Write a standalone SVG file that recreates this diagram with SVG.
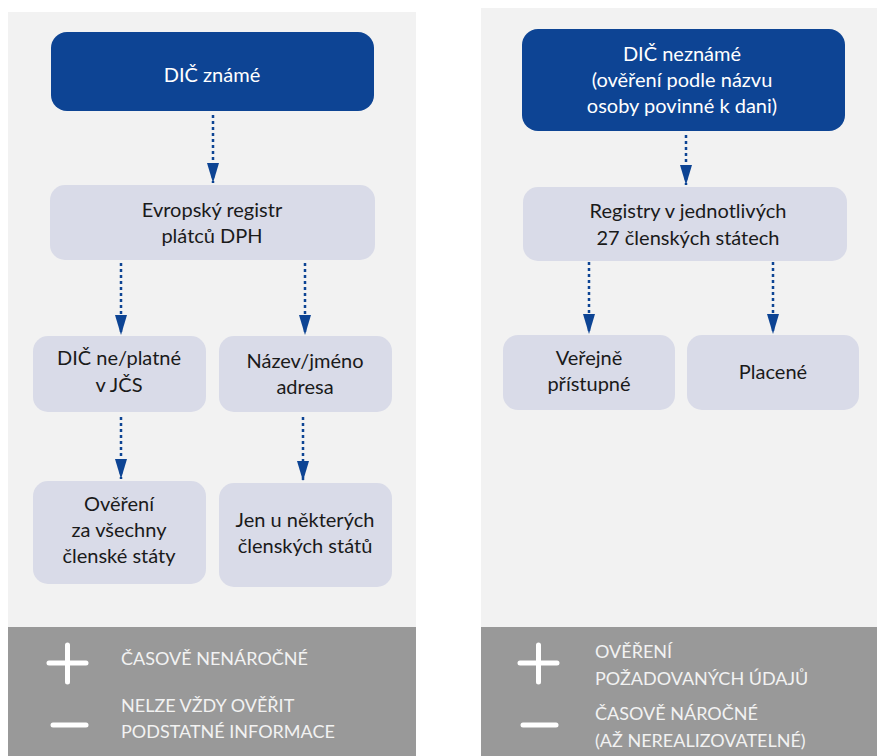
<svg xmlns="http://www.w3.org/2000/svg" width="877" height="756" viewBox="0 0 877 756">
<defs>
<marker id="ah" markerUnits="userSpaceOnUse" markerWidth="20" markerHeight="12" viewBox="0 0 20 12" refX="20" refY="6" orient="auto">
<path d="M0,0 L20,6 L0,12 Z" fill="#0d4494"/>
</marker>
<style>
.panel{fill:#f2f2f2}
.bar{fill:#999999}
.dark{fill:#0d4494}
.light{fill:#d9dbe8}
.t{font-family:Lato,"Open Sans","Liberation Sans",sans-serif;font-size:20px;text-anchor:middle;fill:#1a1a1a}
.w{fill:#ffffff}
.b{font-family:Lato,"Open Sans","Liberation Sans",sans-serif;font-size:18px;fill:#f2f2f2}
.c{stroke:#0d4494;stroke-width:2.5;stroke-dasharray:3 3;fill:none}
.sym{stroke:#ffffff;stroke-width:5;stroke-linecap:round}
</style>
</defs>
<rect class="panel" x="8" y="12" width="408" height="616"/>
<rect class="panel" x="481" y="8" width="396" height="620"/>
<rect class="bar" x="8" y="627" width="408" height="129"/>
<rect class="bar" x="481" y="627" width="396" height="129"/>

<g id="connectors">
<path class="c" d="M213,115 V183" marker-end="url(#ah)"/>
<path class="c" d="M121,263 V335" marker-end="url(#ah)"/>
<path class="c" d="M305,263 V335" marker-end="url(#ah)"/>
<path class="c" d="M121,417 V479" marker-end="url(#ah)"/>
<path class="c" d="M303,417 V481" marker-end="url(#ah)"/>
<path class="c" d="M686,135 V185" marker-end="url(#ah)"/>
<path class="c" d="M589,262 V334" marker-end="url(#ah)"/>
<path class="c" d="M773,262 V334" marker-end="url(#ah)"/>
</g>

<g id="dic-zname">
<rect class="dark" x="51" y="32" width="323" height="79" rx="16"/>
<text class="t w" x="212" y="82">DIČ známé</text>
</g>
<g id="evropsky-registr">
<rect class="light" x="50" y="185" width="325" height="75" rx="15"/>
<text class="t" x="212" y="217">Evropský registr</text>
<text class="t" x="212" y="243">plátců DPH</text>
</g>
<g id="dic-neplatne">
<rect class="light" x="33" y="336" width="173" height="76" rx="15"/>
<text class="t" x="119" y="365">DIČ ne/platné</text>
<text class="t" x="119" y="392">v JČS</text>
</g>
<g id="nazev-jmeno">
<rect class="light" x="219" y="336" width="173" height="76" rx="15"/>
<text class="t" x="305" y="368">Název/jméno</text>
<text class="t" x="305" y="394">adresa</text>
</g>
<g id="overeni-vsechny">
<rect class="light" x="33" y="481" width="173" height="103" rx="15"/>
<text class="t" x="119" y="511">Ověření</text>
<text class="t" x="119" y="537">za všechny</text>
<text class="t" x="119" y="563">členské státy</text>
</g>
<g id="jen-nekterych">
<rect class="light" x="219" y="483" width="173" height="104" rx="15"/>
<text class="t" x="305" y="527">Jen u některých</text>
<text class="t" x="305" y="553">členských států</text>
</g>

<g id="dic-nezname">
<rect class="dark" x="522" y="29" width="323" height="102" rx="16"/>
<text class="t w" x="682" y="61">DIČ neznámé</text>
<text class="t w" x="682" y="87">(ověření podle názvu</text>
<text class="t w" x="682" y="113">osoby povinné k dani)</text>
</g>
<g id="registry">
<rect class="light" x="523" y="187" width="324" height="74" rx="15"/>
<text class="t" x="688" y="218">Registry v jednotlivých</text>
<text class="t" x="688" y="245">27 členských státech</text>
</g>
<g id="verejne">
<rect class="light" x="503" y="335" width="172" height="75" rx="15"/>
<text class="t" x="589" y="365">Veřejně</text>
<text class="t" x="589" y="391">přístupné</text>
</g>
<g id="placene">
<rect class="light" x="687" y="335" width="172" height="75" rx="15"/>
<text class="t" x="773" y="379">Placené</text>
</g>

<g id="legend-left">
<path class="sym" d="M49,663 H86 M67.5,645 V682"/>
<path class="sym" d="M53,725 H86"/>
<text class="b" x="121" y="665">ČASOVĚ NENÁROČNÉ</text>
<text class="b" x="121" y="712">NELZE VŽDY OVĚŘIT</text>
<text class="b" x="121" y="738">PODSTATNÉ INFORMACE</text>
</g>
<g id="legend-right">
<path class="sym" d="M520,663 H557 M538.5,645 V682"/>
<path class="sym" d="M523,725 H556"/>
<text class="b" x="595" y="658">OVĚŘENÍ</text>
<text class="b" x="595" y="685">POŽADOVANÝCH ÚDAJŮ</text>
<text class="b" x="595" y="720">ČASOVĚ NÁROČNÉ</text>
<text class="b" x="595" y="747">(AŽ NEREALIZOVATELNÉ)</text>
</g>
</svg>
